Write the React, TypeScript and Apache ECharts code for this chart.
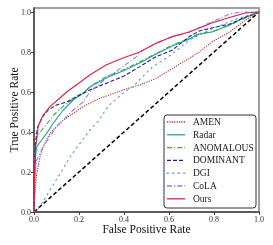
import React, { useEffect, useRef } from "react";
import * as echarts from "echarts";

const seriesNames = ["AMEN", "Radar", "ANOMALOUS", "DOMINANT", "DGI", "CoLA", "Ours"];
const tickValues = [0, 0.2, 0.4, 0.6, 0.8, 1.0];

const amen = [[0,0],[0.004,0.08],[0.008,0.15],[0.012,0.19],[0.027,0.277],[0.041,0.327],[0.056,0.36],[0.071,0.393],[0.1,0.427],[0.13,0.46],[0.174,0.493],[0.218,0.527],[0.262,0.552],[0.292,0.568],[0.336,0.585],[0.395,0.61],[0.47,0.635],[0.543,0.668],[0.615,0.718],[0.69,0.768],[0.735,0.8],[0.79,0.85],[0.87,0.9],[0.94,0.96],[1,1]];
const radar = [[0,0],[0.003,0.18],[0.007,0.28],[0.012,0.327],[0.034,0.36],[0.056,0.393],[0.085,0.443],[0.13,0.51],[0.174,0.56],[0.218,0.593],[0.248,0.625],[0.32,0.67],[0.395,0.705],[0.47,0.745],[0.543,0.79],[0.615,0.83],[0.69,0.865],[0.735,0.89],[0.79,0.9],[0.87,0.935],[0.93,0.97],[1,1]];
const anomalous = [[0,0],[0.003,0.2],[0.007,0.33],[0.012,0.377],[0.041,0.42],[0.071,0.46],[0.1,0.5],[0.145,0.543],[0.19,0.577],[0.233,0.61],[0.26,0.635],[0.32,0.677],[0.395,0.71],[0.47,0.75],[0.543,0.793],[0.615,0.835],[0.69,0.868],[0.735,0.893],[0.79,0.9],[0.87,0.935],[0.93,0.965],[1,1]];
const dominant = [[0,0],[0.003,0.22],[0.007,0.35],[0.015,0.42],[0.034,0.47],[0.063,0.51],[0.1,0.535],[0.145,0.55],[0.19,0.577],[0.248,0.61],[0.32,0.643],[0.395,0.677],[0.47,0.727],[0.543,0.777],[0.615,0.81],[0.69,0.877],[0.735,0.905],[0.79,0.92],[0.87,0.94],[0.93,0.97],[1,1]];
const dgi = [[0,0],[0.012,0.01],[0.04,0.05],[0.071,0.11],[0.115,0.19],[0.16,0.275],[0.204,0.343],[0.248,0.41],[0.283,0.45],[0.33,0.53],[0.395,0.593],[0.44,0.627],[0.483,0.677],[0.527,0.727],[0.587,0.768],[0.646,0.818],[0.69,0.86],[0.8,0.92],[0.9,0.965],[1,1]];
const cola = [[0,0],[0.002,0.08],[0.004,0.195],[0.012,0.26],[0.041,0.327],[0.071,0.377],[0.1,0.427],[0.13,0.46],[0.174,0.51],[0.218,0.55],[0.248,0.6],[0.32,0.668],[0.395,0.727],[0.455,0.777],[0.47,0.8],[0.54,0.843],[0.615,0.875],[0.69,0.9],[0.79,0.95],[0.87,0.99],[0.92,1.0],[1,1]];
const ours = [[0,0],[0.003,0.22],[0.007,0.33],[0.012,0.36],[0.019,0.43],[0.041,0.485],[0.071,0.527],[0.115,0.57],[0.145,0.6],[0.2,0.645],[0.248,0.685],[0.32,0.735],[0.395,0.77],[0.47,0.8],[0.54,0.843],[0.615,0.877],[0.69,0.9],[0.735,0.92],[0.79,0.945],[0.86,0.97],[0.94,0.995],[1,1]];
const chance = [[0,0],[1,1]];

const seriesData = [amen, radar, anomalous, dominant, dgi, cola, ours];
const colors = ["#a83232", "#23a3a3", "#3aab3a", "#1c1ca0", "#5b9bd5", "#8a7cff", "#e0203f"];
const dashes: any[] = [[1.2, 1.2], null, [5, 2, 1.2, 2], [4, 2], [1.5, 4], [5, 2, 1.2, 2], null];

const FONT = "Liberation Serif";

export default function App() {
  const ref = useRef<HTMLDivElement>(null);
  useEffect(() => {
    if (!ref.current) return;
    const chart = echarts.init(ref.current, null, { renderer: "svg" });
    const series: any[] = [
      {
        type: "line",
        name: "chance",
        data: chance,
        symbol: "none",
        lineStyle: { color: "#000", width: 1.5, type: [4, 2.5] },
        silent: true,
      },
      ...seriesNames.map((n, i) => ({
        type: "line",
        name: n,
        data: seriesData[i],
        symbol: "none",
        lineStyle: { color: colors[i], width: 1.1, type: dashes[i] || "solid", cap: i === 4 ? "round" : "butt" },
      })),
    ];
    const lx = 164, ly = 115, lw = 92, lh = 93;
    const rowY0 = 122, rowStep = 12.8;
    const legendChildren: any[] = [
      { type: "rect", shape: { x: lx, y: ly, width: lw, height: lh, r: 3 }, style: { fill: "#fff", stroke: "#333", lineWidth: 1 }, z: 100 },
    ];
    seriesNames.forEach((n, i) => {
      const y = rowY0 + i * rowStep;
      legendChildren.push({
        type: "line",
        shape: { x1: 167, y1: y, x2: 185, y2: y },
        style: { stroke: colors[i], lineWidth: 1.3, lineDash: dashes[i] || null, lineCap: i === 4 ? "round" : "butt" },
        z: 101,
      });
      legendChildren.push({
        type: "text",
        x: 193,
        y: y,
        style: { text: n, fontFamily: FONT, fontSize: 9.5, fill: "#222", verticalAlign: "middle", align: "left" },
        z: 101,
      });
    });
    chart.setOption({
      animation: false,
      grid: { left: 34, right: 14, top: 8, bottom: 33, show: true, borderColor: "#a0a0a0", borderWidth: 2, backgroundColor: "transparent", containLabel: false, outerBoundsMode: "none" },
      xAxis: {
        type: "value",
        min: 0,
        max: 1,
        interval: 0.2,
        name: "False Positive Rate",
        nameLocation: "middle",
        nameGap: 11,
        nameMoveOverlap: false,
        nameTextStyle: { fontFamily: FONT, fontSize: 11.5, color: "#111", verticalAlign: "top" },
        axisLine: { show: true, lineStyle: { color: "#444", width: 1.5 } },
        axisTick: { show: true, inside: false, length: 3, lineStyle: { color: "#444" }, customValues: tickValues },
        axisLabel: { margin: 3, fontFamily: FONT, fontSize: 8, color: "#333", customValues: tickValues, formatter: (v: number) => v.toFixed(1) },
        splitLine: { show: false },
      },
      yAxis: {
        type: "value",
        min: 0,
        max: 1.02,
        name: "True Positive Rate",
        nameLocation: "middle",
        nameGap: 14,
        nameMoveOverlap: false,
        nameTextStyle: { fontFamily: FONT, fontSize: 11.5, color: "#111" },
        axisLine: { show: true, lineStyle: { color: "#444", width: 1.5 } },
        axisTick: { show: true, inside: false, length: 3, lineStyle: { color: "#444" }, customValues: tickValues },
        axisLabel: { margin: 3, fontFamily: FONT, fontSize: 8, color: "#333", customValues: tickValues, formatter: (v: number) => v.toFixed(1) },
        splitLine: { show: false },
      },
      graphic: { elements: [{ type: "group", children: legendChildren }] },
      series,
    });
    return () => chart.dispose();
  }, []);
  return <div ref={ref} style={{ position: "fixed", left: 0, top: 0, width: 273, height: 245 }} />;
}
